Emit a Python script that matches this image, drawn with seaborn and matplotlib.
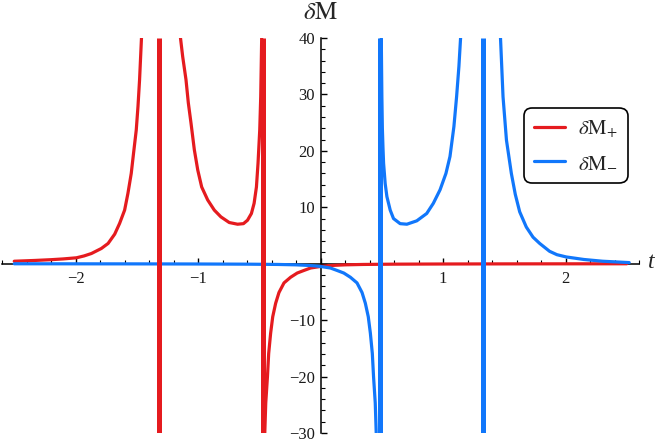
import numpy as np
import pandas as pd
import matplotlib
matplotlib.use("Agg")
import matplotlib.pyplot as plt
import seaborn as sns
from matplotlib.ticker import MultipleLocator, FuncFormatter
from matplotlib.lines import Line2D

# ---- data ----
# delta M_plus branches
red_left_t = [-2.50, -2.331, -2.195, -2.10, -1.992, -1.930, -1.870, -1.789, -1.734, -1.680, -1.640, -1.599, -1.572, -1.545, -1.526, -1.504, -1.490, -1.477, -1.461, -1.458]
red_left_y = [0.44, 0.58, 0.72, 0.85, 1.05, 1.38, 1.81, 2.70, 3.59, 5.24, 7.14, 9.50, 12.47, 16.0, 19.6, 23.7, 27.85, 32.6, 40.2, 41.0]

red_mid_t = [-1.147, -1.144, -1.125, -1.098, -1.079, -1.057, -1.030, -1.002, -0.970, -0.921, -0.867, -0.813, -0.745, -0.677, -0.629, -0.596, -0.564, -0.542, -0.523, -0.510, -0.496, -0.488, -0.480, -0.479]
red_mid_y = [41.0, 40.2, 36.7, 32.6, 28.5, 24.9, 20.2, 16.6, 13.6, 11.3, 9.5, 8.3, 7.3, 7.0, 7.1, 7.7, 8.9, 10.7, 13.6, 17.8, 23.7, 29.6, 40.2, 41.0]

red_right_t = [-0.456, -0.455, -0.447, -0.433, -0.423, -0.407, -0.390, -0.366, -0.339, -0.298, -0.244, -0.190, -0.136, -0.081, 0.005, 0.05, 0.10, 0.20, 0.35, 0.60, 1.00, 1.50, 2.00, 2.50]
red_right_y = [-31.0, -30.1, -24.7, -20.0, -15.9, -12.3, -9.4, -7.0, -5.1, -3.4, -2.4, -1.65, -1.2, -0.76, -0.47, -0.38, -0.3, -0.2, -0.13, -0.08, -0.05, -0.03, -0.02, -0.01]

# delta M_minus branches
blue_left_t = [-2.50, -2.00, -1.50, -1.00, -0.60, -0.35, -0.20, -0.10, -0.05, -0.005, 0.081, 0.136, 0.190, 0.244, 0.298, 0.339, 0.366, 0.390, 0.407, 0.423, 0.433, 0.447, 0.455, 0.456]
blue_left_y = [-0.01, -0.02, -0.03, -0.05, -0.08, -0.13, -0.2, -0.3, -0.38, -0.47, -0.76, -1.2, -1.65, -2.4, -3.4, -5.1, -7.0, -9.4, -12.3, -15.9, -20.0, -24.7, -30.1, -31.0]

blue_mid_t = [0.495, 0.496, 0.501, 0.505, 0.510, 0.515, 0.528, 0.542, 0.569, 0.596, 0.650, 0.705, 0.786, 0.867, 0.921, 0.976, 1.024, 1.057, 1.089, 1.111, 1.130, 1.144, 1.146]
blue_mid_y = [41.0, 40.2, 29.6, 24.0, 20.6, 17.8, 14.2, 11.9, 9.5, 8.0, 7.1, 7.0, 7.6, 8.9, 10.7, 13.1, 16.0, 19.0, 24.3, 29.6, 35.0, 40.2, 41.0]

blue_right_t = [1.467, 1.469, 1.490, 1.518, 1.558, 1.590, 1.626, 1.680, 1.735, 1.789, 1.870, 1.930, 2.006, 2.150, 2.303, 2.520]
blue_right_y = [41.0, 40.2, 29.6, 21.9, 16.0, 12.3, 9.2, 6.5, 4.7, 3.6, 2.2, 1.6, 1.2, 0.75, 0.44, 0.2]

# vertical jumps across poles
red_jumps = [-1.315, -0.468]
blue_jumps = [0.482, 1.328]

series_names = ["δM+", "δM−"]
legend_labels = [r"$\delta\mathrm{M}_{+}$", r"$\delta\mathrm{M}_{-}$"]
colors = ["#E51B1F", "#1177FB"]

x_ticks = [-2, -1, 0, 1, 2]
y_ticks = [-30, -20, -10, 0, 10, 20, 30, 40]

# ---- build table ----
rows = []
branches = [
    ("δM+", "r1", red_left_t, red_left_y),
    ("δM+", "r2", red_mid_t, red_mid_y),
    ("δM+", "r3", red_right_t, red_right_y),
    ("δM−", "b1", blue_left_t, blue_left_y),
    ("δM−", "b2", blue_mid_t, blue_mid_y),
    ("δM−", "b3", blue_right_t, blue_right_y),
]
for s, b, ts, ys in branches:
    for t, y in zip(ts, ys):
        rows.append({"series": s, "branch": b, "t": t, "value": y})
df = pd.DataFrame(rows)

sns.set_theme(style="white")
plt.rcParams["font.family"] = ["Liberation Serif", "DejaVu Serif"]
plt.rcParams["mathtext.fontset"] = "stix"
plt.rcParams["axes.unicode_minus"] = True
plt.rcParams["lines.solid_joinstyle"] = "round"

fig = plt.figure(figsize=(6.64, 4.44), dpi=100)
W, H = 664, 444
ax = fig.add_axes([2 / W, (H - 433) / H, 637 / W, (433 - 38) / H])

pal = dict(zip(series_names, colors))
sns.lineplot(data=df, x="t", y="value", hue="series", units="branch",
             estimator=None, sort=False, palette=pal, linewidth=2.3,
             legend=False, ax=ax, zorder=3)

ax.vlines(red_jumps, -30, 40, colors=colors[0], linewidth=3.6, zorder=3)
ax.vlines(blue_jumps, -30, 40, colors=colors[1], linewidth=3.6, zorder=3)

ax.set_xlim(-2.6, 2.6)
ax.set_ylim(-30, 40)

for side in ["top", "right"]:
    ax.spines[side].set_visible(False)
ax.spines["left"].set_position(("data", 0))
ax.spines["bottom"].set_position(("data", 0))
for side in ["left", "bottom"]:
    ax.spines[side].set_color("black")
    ax.spines[side].set_linewidth(1.1)
    ax.spines[side].set_zorder(2)

ax.set_xticks(x_ticks)
ax.set_yticks(y_ticks)
ax.xaxis.set_minor_locator(MultipleLocator(0.2))
ax.yaxis.set_minor_locator(MultipleLocator(2))

def fmt(v, pos):
    if abs(v) < 1e-9:
        return ""
    return f"{int(round(v))}".replace("-", "\u2212")

ax.xaxis.set_major_formatter(FuncFormatter(fmt))
ax.yaxis.set_major_formatter(FuncFormatter(fmt))
ax.tick_params(axis="both", which="major", direction="in", length=4.5, width=1.0,
               color="black", labelsize=12, labelcolor="#1a1a1a")
ax.tick_params(axis="both", which="minor", direction="in", length=3, width=0.8, color="black")
ax.tick_params(axis="x", which="both", bottom=True, top=False, pad=5)
ax.tick_params(axis="y", which="both", left=True, right=False, pad=4)
ax.set_xlabel("")
ax.set_ylabel("")

ax.annotate(r"$\delta\mathrm{M}$", xy=(0, 40), xycoords="data",
            xytext=(0, 18), textcoords="offset points",
            ha="center", va="center", fontsize=18, annotation_clip=False)
ax.annotate("t", xy=(1, 0), xycoords=("axes fraction", "data"),
            xytext=(9, 1), textcoords="offset points",
            ha="center", va="center", fontsize=17, style="italic",
            annotation_clip=False)

handles = [Line2D([0], [0], color=c, lw=2.3) for c in colors]
leg = ax.legend(handles, legend_labels, loc="upper left",
                bbox_to_anchor=(524 / W, 1 - 108 / H),
                bbox_transform=fig.transFigure, borderaxespad=0,
                frameon=True, fontsize=15, handlelength=1.45, handletextpad=0.62,
                borderpad=0.5, labelspacing=0.62, fancybox=True)
frame = leg.get_frame()
frame.set_edgecolor("black")
frame.set_linewidth(1.2)
frame.set_boxstyle("round,pad=0,rounding_size=0.4")
frame.set_alpha(1)

fig.savefig("out.png", dpi=100)
